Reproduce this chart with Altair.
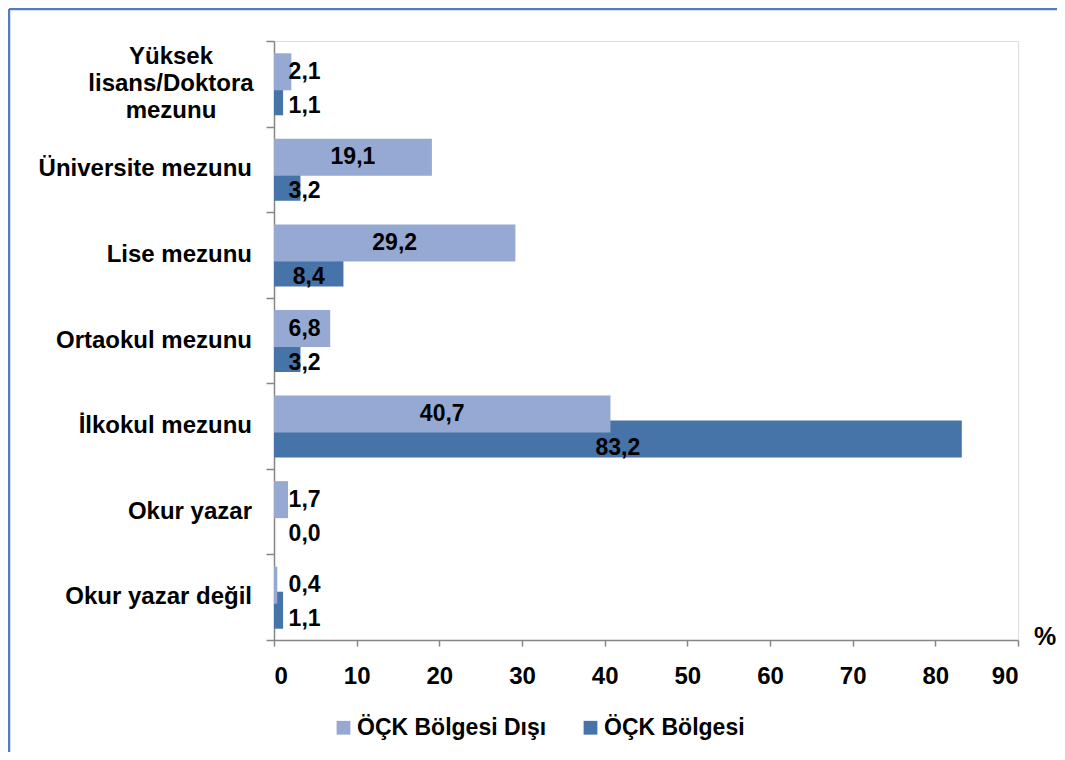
import altair as alt
import pandas as pd

categories = [
    "Yüksek\nlisans/Doktora\nmezunu",
    "Üniversite mezunu",
    "Lise mezunu",
    "Ortaokul mezunu",
    "İlkokul mezunu",
    "Okur yazar",
    "Okur yazar değil",
]
series_names = ["ÖÇK Bölgesi Dışı", "ÖÇK Bölgesi"]
disi_values = [2.1, 19.1, 29.2, 6.8, 40.7, 1.7, 0.4]
bolge_values = [1.1, 3.2, 8.4, 3.2, 83.2, 0.0, 1.1]
x_ticks = [0, 10, 20, 30, 40, 50, 60, 70, 80, 90]

LIGHT = "#95A9D2"
DARK = "#4673A8"
GRAY = "#868686"
FONT = "Liberation Sans"

rows = []
for c, a, b in zip(categories, disi_values, bolge_values):
    rows.append({"cat": c, "series": series_names[0], "v": a})
    rows.append({"cat": c, "series": series_names[1], "v": b})
df = pd.DataFrame(rows)
cat_df = pd.DataFrame({"cat": categories})
one = pd.DataFrame({"t": ["%"]})

y_enc = alt.Y(
    "cat:N",
    scale=alt.Scale(domain=categories, paddingInner=0, paddingOuter=0),
    axis=alt.Axis(labels=False, title=None, tickBand="extent", tickSize=8,
                  tickColor=GRAY, tickWidth=1.5, domainColor=GRAY,
                  domainWidth=1.5, grid=False),
)
x_axis = alt.Axis(values=x_ticks, title=None, grid=False, tickSize=6,
                  tickColor=GRAY, tickWidth=1.5, domainColor=GRAY,
                  domainWidth=1.5, labelFont=FONT, labelFontSize=24,
                  labelFontWeight="bold", labelColor="black",
                  labelPadding=30, labelBaseline="middle")
x_scale = alt.Scale(domain=[0, 90], nice=False)

color_enc = alt.Color(
    "series:N",
    scale=alt.Scale(domain=series_names, range=[LIGHT, DARK]),
    legend=alt.Legend(orient="none", legendX=58, legendY=675,
                      direction="horizontal", title=None,
                      symbolType="square", symbolSize=190,
                      symbolStrokeWidth=0, labelFont=FONT,
                      labelFontSize=23, labelFontWeight="bold",
                      labelColor="black", columnPadding=32,
                      labelOffset=2, padding=0, labelLimit=0),
)

base = alt.Chart(df)

dark_bars = base.transform_filter(
    alt.datum.series == series_names[1]
).mark_bar(height=37, yOffset=13).encode(
    x=alt.X("v:Q", scale=x_scale, axis=x_axis), y=y_enc, color=color_enc
)
light_bars = base.transform_filter(
    alt.datum.series == series_names[0]
).mark_bar(height=37, yOffset=-12).encode(
    x=alt.X("v:Q", scale=x_scale, axis=x_axis), y=y_enc, color=color_enc
)

lab_base = base.transform_calculate(
    lx="max(datum.v / 2, 3.7)",
    lbl="replace(format(datum.v, '.1f'), '.', ',')",
)
light_labels = lab_base.transform_filter(
    alt.datum.series == series_names[0]
).mark_text(font=FONT, fontSize=23, fontWeight="bold", color="black",
            baseline="middle", align="center", dy=-12).encode(
    x=alt.X("lx:Q", scale=x_scale, axis=x_axis), y=y_enc, text="lbl:N"
)
dark_labels = lab_base.transform_filter(
    alt.datum.series == series_names[1]
).mark_text(font=FONT, fontSize=23, fontWeight="bold", color="black",
            baseline="middle", align="center", dy=22).encode(
    x=alt.X("lx:Q", scale=x_scale, axis=x_axis), y=y_enc, text="lbl:N"
)

cat_single = alt.Chart(cat_df).transform_filter(
    "indexof(datum.cat, '\\n') < 0"
).mark_text(font=FONT, fontSize=24, fontWeight="bold", color="black",
            align="right", baseline="middle").encode(
    x=alt.value(-22), y=y_enc, text="cat:N"
)
cat_multi = alt.Chart(cat_df).transform_filter(
    "indexof(datum.cat, '\\n') >= 0"
).mark_text(font=FONT, fontSize=24, fontWeight="bold", color="black",
            align="center", baseline="middle", lineBreak="\n",
            lineHeight=27, dy=-27).encode(
    x=alt.value(-103), y=y_enc, text="cat:N"
)

pct = alt.Chart(one).mark_text(font=FONT, fontSize=25, fontWeight="bold",
                               color="black", align="center",
                               baseline="middle").encode(
    x=alt.value(771), y=alt.value(596), text="t:N"
)

frame_left = alt.Chart(one).mark_rule(color="#4F7FBE", strokeWidth=2.5).encode(
    x=alt.value(-265), y=alt.value(-32), y2=alt.value(720)
)
frame_top = alt.Chart(one).mark_rule(color="#4F7FBE", strokeWidth=2.5).encode(
    x=alt.value(-265), x2=alt.value(790), y=alt.value(-32)
)

chart = alt.layer(
    dark_bars, light_bars, light_labels, dark_labels, cat_single, cat_multi,
    pct, frame_left, frame_top
).properties(
    width=744, height=599,
    padding={"left": 266, "top": 33, "right": 39, "bottom": 112},
    autosize=alt.AutoSizeParams(type="none"),
).configure_view(stroke=None).configure(background="white")

chart.save("out.html", embed_options={"renderer": "svg", "actions": False})
